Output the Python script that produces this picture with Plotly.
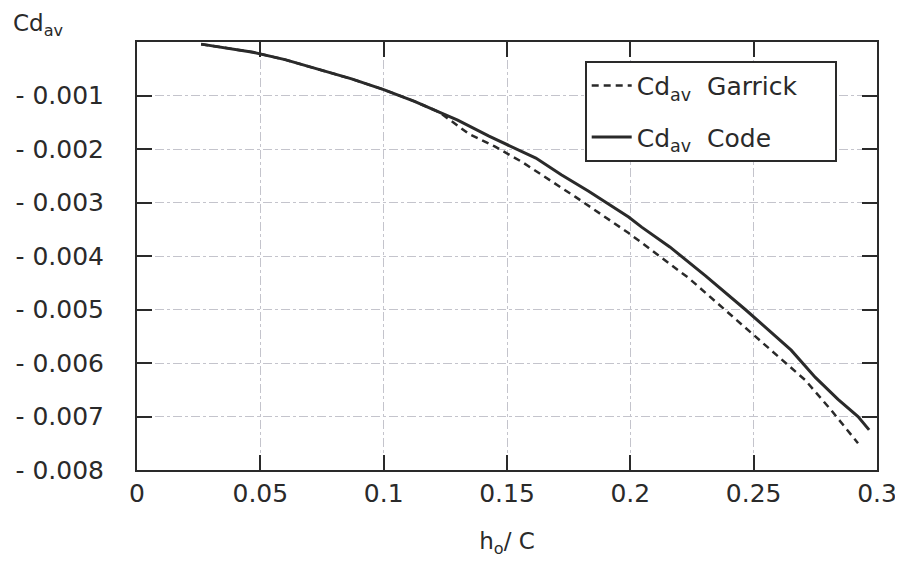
import plotly.graph_objects as go

# ---- data ----
x_code = [0.026, 0.035, 0.047, 0.060, 0.074, 0.087, 0.100, 0.1125, 0.1225, 0.130,
          0.1427, 0.152, 0.1617, 0.172, 0.1831, 0.1993, 0.2046, 0.216, 0.2305,
          0.2466, 0.2652, 0.275, 0.2842, 0.2923, 0.2968]
y_code = [-0.00004, -0.00010, -0.00019, -0.00033, -0.00052, -0.00069, -0.00089,
          -0.00111, -0.00131, -0.00146, -0.00176, -0.00196, -0.00217, -0.00248,
          -0.00279, -0.00327, -0.00346, -0.00383, -0.00437, -0.00500, -0.00576,
          -0.00627, -0.00668, -0.00700, -0.00725]

x_garrick = [0.026, 0.035, 0.047, 0.060, 0.074, 0.087, 0.100, 0.1125, 0.1225,
             0.1346, 0.145, 0.156, 0.1779, 0.1993, 0.2236, 0.2466, 0.2709,
             0.2814, 0.2923]
y_garrick = [-0.00004, -0.00010, -0.00019, -0.00033, -0.00052, -0.00069, -0.00089,
             -0.00111, -0.00131, -0.00172, -0.00195, -0.00224, -0.00290, -0.00357,
             -0.00441, -0.00533, -0.00632, -0.00688, -0.00750]

x_tickvals = [0, 0.05, 0.1, 0.15, 0.2, 0.25, 0.3]
x_ticktext = ["0", "0.05", "0.1", "0.15", "0.2", "0.25", "0.3"]
y_tickvals = [-0.001, -0.002, -0.003, -0.004, -0.005, -0.006, -0.007, -0.008]
y_ticktext = ["- 0.001", "- 0.002", "- 0.003", "- 0.004",
              "- 0.005", "- 0.006", "- 0.007", "- 0.008"]

FONT = "DejaVu Sans"
INK = "#2a2a2a"
PAD = "\u00a0" * 4

fig = go.Figure()
fig.add_trace(go.Scatter(
    x=x_garrick, y=y_garrick, mode="lines",
    name="Cd<sub>av</sub>  Garrick" + PAD, legendgroup="g",
    line=dict(color=INK, width=2.5, dash="7px,5px"),
))
fig.add_trace(go.Scatter(
    x=x_code, y=y_code, mode="lines",
    name="Cd<sub>av</sub>  Code", legendgroup="c",
    line=dict(color=INK, width=3),
))

axis_common = dict(
    showline=True, linecolor=INK, linewidth=2, mirror="ticks",
    ticks="inside", ticklen=15, tickwidth=2, tickcolor=INK,
    showgrid=True, gridcolor="#c4c4cc", gridwidth=1, griddash="dashdot",
    zeroline=False, automargin=False,
    tickfont=dict(family=FONT, size=25, color=INK),
)

fig.update_xaxes(
    range=[0, 0.3], tickmode="array", tickvals=x_tickvals, ticktext=x_ticktext,
    title=dict(text="h<sub>o</sub>/ C", font=dict(family=FONT, size=23, color=INK),
               standoff=26),
    **axis_common,
)
fig.update_yaxes(
    range=[-0.008, 0], tickmode="array", tickvals=y_tickvals, ticktext=y_ticktext,
    ticklabelstandoff=26,
    **axis_common,
)

fig.add_annotation(
    text="Cd<sub>av</sub>", xref="paper", yref="paper", x=-0.17, y=1.0,
    xanchor="left", yanchor="bottom", showarrow=False,
    font=dict(family=FONT, size=23, color=INK),
)

# page body has an 8px margin, so the figure is 8px smaller and margins shifted
fig.update_layout(
    width=895, height=556,
    margin=dict(l=129, r=26, t=34, b=94),
    paper_bgcolor="white", plot_bgcolor="white",
    showlegend=True,
    legend=dict(
        x=0.605, y=0.956, xanchor="left", yanchor="top",
        bgcolor="white", bordercolor=INK, borderwidth=2,
        font=dict(family=FONT, size=25, color=INK),
        tracegroupgap=16, itemwidth=40,
    ),
)

fig.write_html("out.html")
